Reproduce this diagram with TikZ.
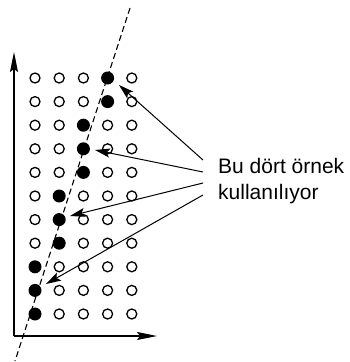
\documentclass[tikz,border=0pt]{standalone}
\usepackage{fontspec}
\setmainfont{Liberation Sans}
\usetikzlibrary{arrows.meta}
\begin{document}
\begin{tikzpicture}[x=1pt,y=-1pt,
  open/.style={circle,draw,line width=1.3pt,minimum size=10pt,inner sep=0pt},
  full/.style={circle,fill,minimum size=13pt,inner sep=0pt},
  axis/.style={line width=1.3pt,-{Stealth[length=20pt,width=8pt,inset=3pt]}},
  pointer/.style={line width=1pt,-{Stealth[length=15pt,width=9pt,inset=3pt]}},
  trend/.style={line width=1.1pt,dash pattern=on 6pt off 3.5pt},
  lbl/.style={font=\fontsize{21}{26}\selectfont,anchor=base west,inner sep=0pt}]
\useasboundingbox (0,0) rectangle (350,362);
% axes
\coordinate (o) at (14,336);
\coordinate (ytip) at (14,52);
\coordinate (xtip) at (157,336);
\draw[axis] (o) -- (ytip);
\draw[axis] (o) -- (xtip);
% grid of samples
\foreach \r/\f in {1/4,2/4,3/3,4/3,5/3,6/2,7/2,8/2,9/1,10/1,11/1}{
  \foreach \c in {1,...,5}{
    \pgfmathsetmacro{\xx}{35+24.2*(\c-1)}
    \pgfmathsetmacro{\yy}{78+23.6*(\r-1)}
    \ifnum\c=\f
      \node[full] (d\r-\c) at (\xx,\yy) {};
    \else
      \node[open] (d\r-\c) at (\xx,\yy) {};
    \fi
  }
}
% dashed trend line
\coordinate (top) at (130,8);
\coordinate (bot) at (15,361);
\draw[trend] (top) -- (bot);
% label
\node[lbl] (l1) at (218,173) {Bu dört örnek};
\node[lbl] (l2) at (218,199) {kullanılıyor};
% pointer start points
\coordinate (s1) at (203,160);
\coordinate (s2) at (203,172);
\coordinate (s3) at (203,183);
\coordinate (s4) at (203,195);
% pointer tips
\coordinate (t1) at (119,85);
\coordinate (t2) at (95,150);
\coordinate (t3) at (70,216);
\coordinate (t4) at (46,284);
\draw[pointer] (s1) -- (t1);
\draw[pointer] (s2) -- (t2);
\draw[pointer] (s3) -- (t3);
\draw[pointer] (s4) -- (t4);
\end{tikzpicture}
\end{document}
